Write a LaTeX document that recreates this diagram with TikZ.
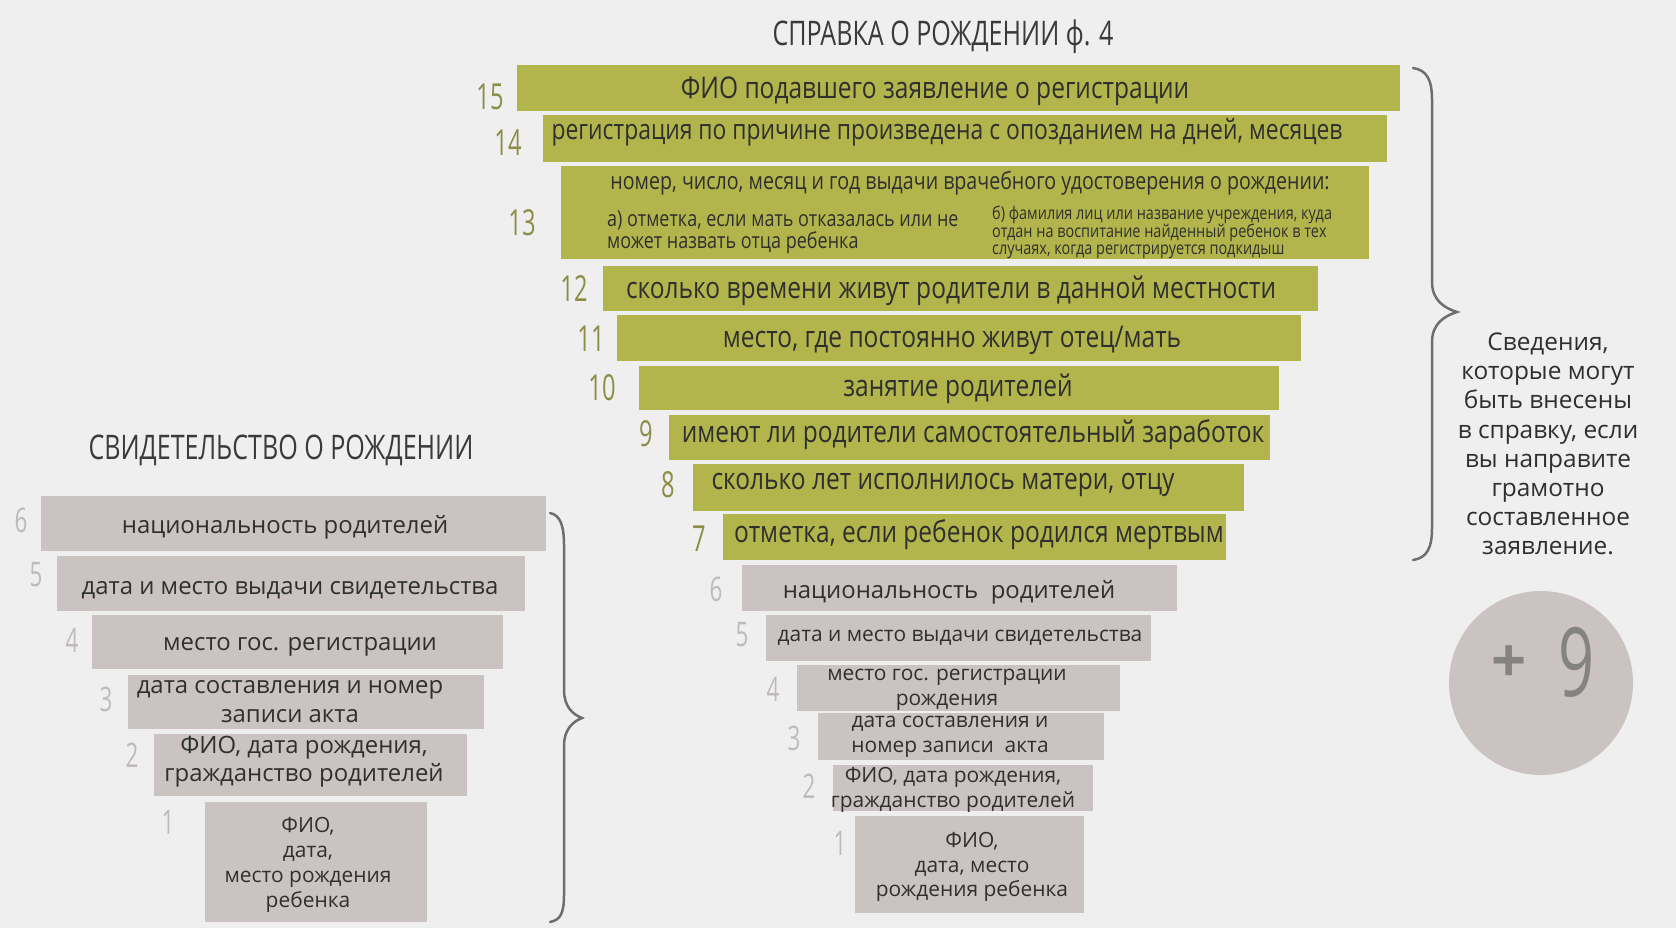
\documentclass[tikz,border=0pt]{standalone}
\usepackage{fontspec}
\usetikzlibrary{fit}
\setmainfont{Open Sans}
\newfontfamily\condf[FakeStretch=0.82]{Open Sans}
\newfontfamily\titlef[FakeStretch=0.74]{Open Sans}
\newfontfamily\numf[FakeStretch=0.66]{Open Sans}
\definecolor{bg}{HTML}{EFEFEF}
\definecolor{grn}{HTML}{B2B54B}
\definecolor{grnnum}{HTML}{8C8E46}
\definecolor{gboxc}{HTML}{CBC3C2}
\definecolor{gnum}{HTML}{C0BABA}
\definecolor{txt}{HTML}{2F2F2F}
\definecolor{titlec}{HTML}{3A3A3A}
\definecolor{bracec}{HTML}{6E6E6E}
\definecolor{plusc}{HTML}{858282}
\tikzset{
  gbx/.style={fill=grn, inner sep=0pt, outer sep=0pt},
  rbx/.style={fill=gboxc, inner sep=0pt, outer sep=0pt},
  gtxt/.style={text=txt, inner sep=0pt, font=\condf\fontsize{30}{32}\selectfont},
  rtxt/.style={text=txt, inner sep=0pt, align=center, font=\fontsize{21}{25}\selectfont},
  ltxt/.style={text=txt, inner sep=0pt, align=center, font=\fontsize{24}{29}\selectfont},
  gnumber/.style={text=grnnum, inner sep=0pt, font=\numf\fontsize{36}{36}\selectfont},
  rnumber/.style={text=gnum, inner sep=0pt, font=\numf\fontsize{34}{34}\selectfont},
  ttl/.style={text=titlec, inner sep=0pt, font=\titlef\fontsize{34}{34}\selectfont},
  bracel/.style={draw=bracec, line width=2.5bp, line cap=round},
}
\begin{document}
\begin{tikzpicture}[x=1bp,y=-1bp]
\fill[bg] (0,0) rectangle (1676,928);
\useasboundingbox (0,0) rectangle (1676,928);

% titles
\node[ttl] (title1) at (943,37) {СПРАВКА О РОЖДЕНИИ ф. 4};
\node[ttl] (title2) at (281,450) {СВИДЕТЕЛЬСТВО О РОЖДЕНИИ};

% green boxes
\node[gbx, fit={(517,65) (1400,111)}] (b15) {};
\node[gbx, fit={(543,115) (1387,162)}] (b14) {};
\node[gbx, fit={(561,166) (1369,259)}] (b13) {};
\node[gbx, fit={(603,266) (1318,311)}] (b12) {};
\node[gbx, fit={(617,315) (1301,361)}] (b11) {};
\node[gbx, fit={(639,366) (1279,410)}] (b10) {};
\node[gbx, fit={(669,415) (1270,460)}] (b9) {};
\node[gbx, fit={(693,464) (1244,511)}] (b8) {};
\node[gbx, fit={(723,514) (1226,560)}] (b7) {};

\node[gtxt] (t15) at (935,91) {ФИО подавшего заявление о регистрации};
\node[gtxt, font=\condf\fontsize{28}{30}\selectfont] (t14) at (947,132) {регистрация по причине произведена с опозданием на дней, месяцев};
\node[gtxt, font=\condf\fontsize{24}{26}\selectfont] (t13) at (970,183) {номер, число, месяц и год выдачи врачебного удостоверения о рождении:};
\node[gtxt, anchor=west, align=left, font=\condf\fontsize{22}{22}\selectfont] (t13a) at (607,232) {а) отметка, если мать отказалась или не\\может назвать отца ребенка};
\node[gtxt, anchor=west, align=left, font=\condf\fontsize{17.7}{16.5}\selectfont] (t13b) at (992,232) {б) фамилия лиц или название учреждения, куда\\отдан на воспитание найденный ребенок в тех\\случаях, когда регистрируется подкидыш};
\node[gtxt] (t12) at (951,291) {сколько времени живут родители в данной местности};
\node[gtxt] (t11) at (952,340) {место, где постоянно живут отец/мать};
\node[gtxt] (t10) at (958,389) {занятие родителей};
\node[gtxt] (t9) at (973,435) {имеют ли родители самостоятельный заработок};
\node[gtxt] (t8) at (943,485) {сколько лет исполнилось матери, отцу};
\node[gtxt] (t7) at (979,535) {отметка, если ребенок родился мертвым};

\node[gnumber] (n15) at (490,97) {15};
\node[gnumber] (n14) at (508,143) {14};
\node[gnumber] (n13) at (522,223) {13};
\node[gnumber] (n12) at (574,289) {12};
\node[gnumber] (n11) at (591,339) {11};
\node[gnumber] (n10) at (602,388) {10};
\node[gnumber] (n9) at (646,434) {9};
\node[gnumber] (n8) at (668,485) {8};
\node[gnumber] (n7) at (699,539) {7};

% grey boxes, right pyramid
\node[rbx, fit={(742,565) (1177,611)}] (r6) {};
\node[rbx, fit={(766,615) (1151,661)}] (r5) {};
\node[rbx, fit={(797,665) (1120,711)}] (r4) {};
\node[rbx, fit={(818,713) (1104,760)}] (r3) {};
\node[rbx, fit={(833,765) (1093,811)}] (r2) {};
\node[rbx, fit={(855,816) (1084,913)}] (r1) {};

\node[rtxt, font=\fontsize{24}{25}\selectfont] (rt6) at (949,592) {национальность\ \ родителей};
\node[rtxt] (rt5) at (960,638) {дата и место выдачи свидетельства};
\node[rtxt] (rt4) at (947,690) {место гос. регистрации\\рождения};
\node[rtxt] (rt3) at (950,737) {дата составления и\\номер записи\ \ акта};
\node[rtxt] (rt2) at (953,790) {ФИО, дата рождения,\\гражданство родителей};
\node[rtxt] (rt1) at (972,867) {ФИО,\\дата, место\\рождения ребенка};

\node[rnumber] (rn6) at (716,589) {6};
\node[rnumber] (rn5) at (742,635) {5};
\node[rnumber] (rn4) at (773,689) {4};
\node[rnumber] (rn3) at (794,738) {3};
\node[rnumber] (rn2) at (809,786) {2};
\node[rnumber] (rn1) at (840,843) {1};

% grey boxes, left pyramid
\node[rbx, fit={(41,496) (546,551)}] (l6) {};
\node[rbx, fit={(57,556) (525,611)}] (l5) {};
\node[rbx, fit={(92,615) (503,669)}] (l4) {};
\node[rbx, fit={(128,675) (484,729)}] (l3) {};
\node[rbx, fit={(154,734) (467,796)}] (l2) {};
\node[rbx, fit={(205,802) (427,922)}] (l1) {};

\node[ltxt] (lt6) at (285,527) {национальность родителей};
\node[ltxt] (lt5) at (290,590) {дата и место выдачи свидетельства};
\node[ltxt] (lt4) at (300,647) {место гос. регистрации};
\node[ltxt] (lt3) at (290,702) {дата составления и номер\\записи акта};
\node[ltxt, font=\fontsize{24}{28}\selectfont] (lt2) at (304,762) {ФИО, дата рождения,\\гражданство родителей};
\node[ltxt, font=\fontsize{21}{25}\selectfont] (lt1) at (308,865) {ФИО,\\дата,\\место рождения\\ребенка};

\node[rnumber] (ln6) at (21,520) {6};
\node[rnumber] (ln5) at (36,575) {5};
\node[rnumber] (ln4) at (72,640) {4};
\node[rnumber] (ln3) at (106,699) {3};
\node[rnumber] (ln2) at (132,755) {2};
\node[rnumber] (ln1) at (168,822) {1};

% braces
\draw[bracel] (1413,68) .. controls (1427,70) and (1432,80) .. (1432,100) -- (1432,282)
  .. controls (1432,300) and (1444,308) .. (1457,312)
  .. controls (1444,316) and (1432,324) .. (1432,342) -- (1432,528)
  .. controls (1432,548) and (1427,558) .. (1413,560);
\draw[bracel] (550,513) .. controls (560,515) and (564,525) .. (564,545) -- (564,690)
  .. controls (564,706) and (572,714) .. (582,718)
  .. controls (572,722) and (564,730) .. (564,746) -- (564,895)
  .. controls (564,914) and (560,920) .. (550,922);

% side note
\node[text=txt, align=center, inner sep=0pt, font=\fontsize{24.5}{29.3}\selectfont] (note) at (1548,444)
  {Сведения,\\которые могут\\быть внесены\\в справку, если\\вы направите\\грамотно\\составленное\\заявление.};

% circle
\node[circle, fill=gboxc, minimum size=184bp, inner sep=0pt] (circ) at (1541,683) {};
\node[text=plusc, inner sep=0pt, font=\bfseries\fontsize{62}{62}\selectfont] (plus) at (1509,664) {+};
\node[text=plusc, inner sep=0pt, font=\numf\fontsize{96}{96}\selectfont] (nine) at (1577,662) {9};
\end{tikzpicture}
\end{document}
